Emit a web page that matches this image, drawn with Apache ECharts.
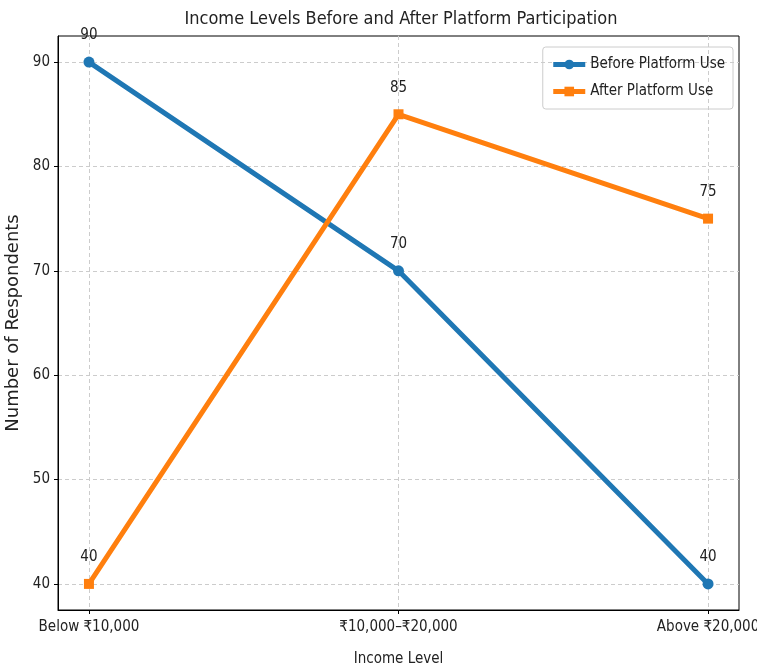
<!DOCTYPE html>
<html><head><meta charset="utf-8">
<script src="https://cdn.jsdelivr.net/npm/echarts@6/dist/echarts.min.js"></script>
<style>html,body{margin:0;padding:0;background:#fff}#c{width:757px;height:670px}</style>
</head><body><div id="c"></div>
<script>
const categories = ['Below ₹10,000', '₹10,000–₹20,000', 'Above ₹20,000'];
const beforeValues = [90, 70, 40];
const afterValues = [40, 85, 75];
const yTicks = [40, 50, 60, 70, 80, 90];

const F = '"DejaVu Sans Condensed", "Liberation Sans Narrow", sans-serif';
const chart = echarts.init(document.getElementById('c'));
const toPts = arr => arr.map((v, i) => [i, v]);
const catIdx = categories.map((c, i) => i);
chart.setOption({
  animation: false,
  title: {text: 'Income Levels Before and After Platform Participation', left: 396, textAlign: 'center', top: 5,
    textStyle: {fontFamily: F, fontSize: 18, fontWeight: 'normal', color: '#222'}},
  legend: {right: 24, top: 47, orient: 'vertical', itemWidth: 32, itemHeight: 12, itemGap: 12,
    borderColor: '#ccc', borderWidth: 1, borderRadius: 3, padding: [10, 8, 10, 8],
    lineStyle: {width: 5},
    textStyle: {fontFamily: F, fontSize: 15, color: '#222'},
    data: ['Before Platform Use', 'After Platform Use']},
  grid: {left: 58, right: 18, top: 36, bottom: 60, show: true, borderColor: '#000', borderWidth: 1,
    containLabel: false, outerBoundsMode: 'none'},
  xAxis: {type: 'value', min: -0.1, max: 2.1,
    name: 'Income Level', nameLocation: 'middle', nameGap: 42,
    nameTextStyle: {fontFamily: F, fontSize: 15, color: '#222'},
    axisLine: {show: true, onZero: false, lineStyle: {color: '#000'}},
    axisTick: {show: true, length: 4, lineStyle: {color: '#000'}, customValues: catIdx},
    axisLabel: {fontFamily: F, fontSize: 15, color: '#222', margin: 10, customValues: catIdx,
      formatter: v => categories[Math.round(v)] || ''},
    splitLine: {show: true, lineStyle: {color: '#ccc', type: [4, 3]}}},
  yAxis: {type: 'value', min: 37.5, max: 92.5,
    name: 'Number of Respondents', nameLocation: 'middle', nameGap: 18,
    nameTextStyle: {fontFamily: '"DejaVu Sans", sans-serif', fontSize: 18, color: '#222'},
    axisLine: {show: true, onZero: false, lineStyle: {color: '#000'}},
    axisTick: {show: true, length: 4, lineStyle: {color: '#000'}, customValues: yTicks},
    axisLabel: {fontFamily: F, fontSize: 15, color: '#222', margin: 8, customValues: yTicks,
      formatter: v => String(v)},
    splitLine: {show: true, lineStyle: {color: '#ccc', type: [4, 3]}}},
  series: [
    {name: 'Before Platform Use', type: 'line', data: toPts(beforeValues), symbol: 'circle', symbolSize: 11,
      lineStyle: {width: 5, color: '#1f77b4'}, itemStyle: {color: '#1f77b4'},
      label: {show: true, position: 'top', distance: 14, fontFamily: F, fontSize: 15, color: '#222'}},
    {name: 'After Platform Use', type: 'line', data: toPts(afterValues), symbol: 'rect', symbolSize: 10,
      lineStyle: {width: 5, color: '#ff7f0e'}, itemStyle: {color: '#ff7f0e'},
      label: {show: true, position: 'top', distance: 14, fontFamily: F, fontSize: 15, color: '#222'}}
  ]
});
</script></body></html>
